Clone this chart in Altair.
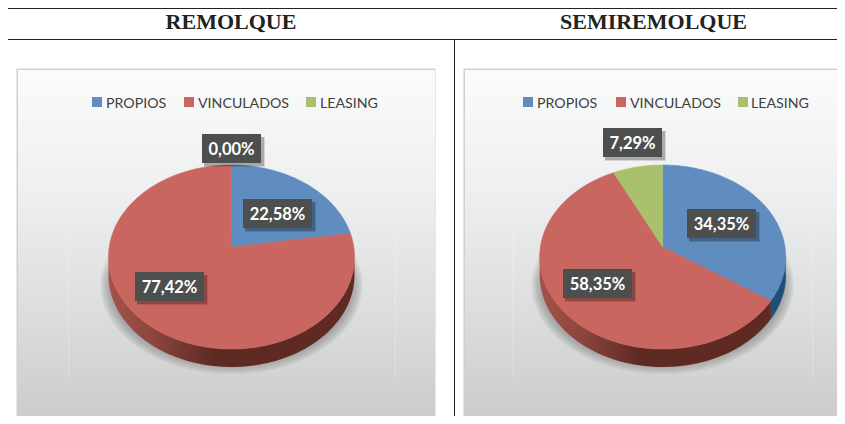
import math
import altair as alt
import pandas as pd

# ---- chart values ----
PANEL_TITLES = ["REMOLQUE", "SEMIREMOLQUE"]
CATEGORIES = ["PROPIOS", "VINCULADOS", "LEASING"]
REMOLQUE_SHARES = [22.58, 77.42, 0.00]
SEMIREMOLQUE_SHARES = [34.35, 58.35, 7.29]
REMOLQUE_LABELS = ["22,58%", "77,42%", "0,00%"]
SEMIREMOLQUE_LABELS = ["34,35%", "58,35%", "7,29%"]
COLORS = ["#5f8dbf", "#c96660", "#a9c06c"]
SIDE_BLUE = "#1f4e79"

# ---- layout (in page pixels, mapped through the scales below) ----
RIGHT, BOTTOM = 837, 416
xs = alt.Scale(domain=[8, RIGHT], range=[0, RIGHT - 8], nice=False, zero=False)
ys = alt.Scale(domain=[8, BOTTOM], range=[0, BOTTOM - 8], nice=False, zero=False)
X = lambda f="x": alt.X(f"{f}:Q", scale=xs, axis=None)
Y = lambda f="y": alt.Y(f"{f}:Q", scale=ys, axis=None)


def grad(stops, horizontal=False):
    return alt.LinearGradient(
        gradient="linear",
        stops=[alt.GradientStop(color=c, offset=o) for o, c in stops],
        x1=0, y1=0, x2=1 if horizontal else 0, y2=0 if horizontal else 1,
    )


def polygon(points, fill, opacity=1.0, stroke=None):
    df = pd.DataFrame(points, columns=["x", "y"])
    df["i"] = range(len(df))
    kw = {"stroke": stroke, "strokeWidth": 0.6} if stroke else {"strokeWidth": 0, "strokeOpacity": 0}
    return alt.Chart(df).mark_line(fill=fill, opacity=opacity, interpolate="linear", clip=True, **kw).encode(
        x=X(), y=Y(), order=alt.Order("i:Q")
    )


def rect(x, x2, y, y2, color, opacity=1.0):
    df = pd.DataFrame([{"x": x, "x2": min(x2, RIGHT), "y": y, "y2": min(y2, BOTTOM)}])
    return alt.Chart(df).mark_rect(color=color, opacity=opacity).encode(
        x=X(), x2=alt.X2("x2:Q"), y=Y(), y2=alt.Y2("y2:Q")
    )


def text(x, y, s, **kw):
    df = pd.DataFrame([{"x": x, "y": y, "s": s}])
    return alt.Chart(df).mark_text(**kw).encode(x=X(), y=Y(), text="s:N")


def rule(x, x2, y, y2):
    df = pd.DataFrame([{"x": x, "x2": x2, "y": y, "y2": y2}])
    return alt.Chart(df).mark_rule(color="#222222", strokeWidth=1).encode(
        x=X(), x2=alt.X2("x2:Q"), y=Y(), y2=alt.Y2("y2:Q")
    )


def ell(cx, cy, rx, ry, a0, a1, dy=0.0):
    n = max(2, int(abs(a1 - a0) / 1.5))
    out = []
    for k in range(n + 1):
        t = math.radians(a0 + (a1 - a0) * k / n)
        out.append((cx + rx * math.sin(t), cy - ry * math.cos(t) + dy))
    return out


def rim_angle(theta, rx, ry, lift):
    """Ellipse angle hit by the slice edge of angle theta, drawn from an apex `lift` px above the ellipse centre."""
    t = math.radians(theta)
    dx, dy = rx * math.sin(t), -ry * math.cos(t)
    a = (dx / rx) ** 2 + (dy / ry) ** 2
    b = 2 * (-lift) * dy / ry ** 2
    c = (lift / ry) ** 2 - 1
    s = (-b + math.sqrt(b * b - 4 * a * c)) / (2 * a)
    px, py = s * dx, -lift + s * dy
    ang = math.degrees(math.atan2(px / rx, -py / ry))
    return ang if ang >= -1e-6 or theta < 1e-6 else ang + 360


def panel(frame, inner, cx, shares, labels, boxes, legend_sq, legend_tx):
    cy, apex_y, rx, ry, depth = 257, 247, 123, 92, 18
    lift = cy - apex_y
    L = []
    # background
    L.append(rect(frame[0] - 0.5, frame[1] + 0.5, 68.5, 421, "#cfd0d0"))
    L.append(rect(frame[0] + 1, frame[1], 70, 420,
                  grad([(0, "#fbfbfc"), (0.35, "#eeeff0"), (0.7, "#dcdddd"), (1, "#cccccc")])))
    # faint plot area outline
    for xx in inner:
        df = pd.DataFrame([{"x": xx, "y": 162, "y2": 377}])
        L.append(alt.Chart(df).mark_rule(color="#ffffff", opacity=0.25).encode(
            x=X(), y=Y(), y2=alt.Y2("y2:Q")))
    # soft shadow
    for d in range(0, 12, 2):
        L.append(polygon(ell(cx, 285, 131 - d, 89 - d, 0, 360),
                         grad([(0, "rgba(110,110,110,0)"), (0.2, "rgba(110,110,110,0)"),
                               (0.45, "rgba(110,110,110,1)"), (1, "rgba(110,110,110,1)")]),
                         opacity=0.12))
    # side wall, front half only
    acc = 0.0
    side_start = 90.0
    blue_end = rim_angle(shares[0] * 3.6, rx, ry, lift)
    if blue_end > 90:
        a = ell(cx, cy, rx, ry, 90, blue_end)
        b = ell(cx, cy, rx, ry, blue_end, 90, dy=depth)
        L.append(polygon(a + b, SIDE_BLUE, stroke=SIDE_BLUE))
        side_start = blue_end
    a = ell(cx, cy, rx, ry, side_start, 270)
    b = ell(cx, cy, rx, ry, 270, side_start, dy=depth)
    L.append(polygon(a + b, grad([(0, "#a65249"), (0.2, "#88443b"), (0.42, "#602a24"), (1, "#602a24")],
                                 horizontal=True)))
    # top surface
    for share, col in zip(shares, COLORS):
        if share <= 0:
            continue
        a0 = rim_angle(acc * 3.6, rx, ry, lift)
        a1 = rim_angle(min((acc + share) * 3.6, 360), rx, ry, lift)
        if a1 <= a0:
            a1 += 360
        acc += share
        pts = [(cx, apex_y)] + ell(cx, cy, rx, ry, a0, a1) + [(cx, apex_y)]
        L.append(polygon(pts, col, stroke=col))
    # legend
    for sq, tx, name, col in zip(legend_sq, legend_tx, CATEGORIES, COLORS):
        L.append(rect(sq, sq + 10, 97, 107, col))
        L.append(text(tx, 104, name, align="left", baseline="middle", font="Lato",
                      fontSize=14.2, color="#404040"))
    # data labels
    for (x0, y0), lab in zip(boxes, labels):
        w = 59 if len(lab) == 5 else 69
        L.append(rect(x0 + 2, x0 + w + 4, y0 + 3, y0 + 33, "#000000", 0.12))
        L.append(rect(x0 + 2, x0 + w + 3, y0 + 3, y0 + 32, "#000000", 0.2))
        L.append(rect(x0, x0 + w, y0, y0 + 29, "#4d4f4f"))
        L.append(text(x0 + w / 2, y0 + 15.5, lab, align="center", baseline="middle", font="Lato",
                      fontWeight="bold", fontSize=16.5, color="#ffffff"))
    return L


layers = []
layers += panel((17, 435), (69, 395), 231.5, REMOLQUE_SHARES, REMOLQUE_LABELS,
                [(243, 199), (135, 272), (202, 134)],
                (92, 184, 306), (106, 198, 320))
layers += panel((464, 845), (513, 813), 662.7, SEMIREMOLQUE_SHARES, SEMIREMOLQUE_LABELS,
                [(687, 209), (563, 269), (603, 128)],
                (523, 616, 738), (537, 630, 751))

# header table
layers.append(rule(8, RIGHT, 8.5, 8.5))
layers.append(rule(8, RIGHT, 39.5, 39.5))
layers.append(rule(454.5, 454.5, 39.5, BOTTOM))
for cx_, title in zip((231, 653.5), PANEL_TITLES):
    layers.append(text(cx_, 29, title, align="center", baseline="alphabetic",
                       font="Liberation Serif", fontWeight="bold", fontSize=22, color="#222222"))

chart = alt.layer(*layers).properties(
    width=RIGHT - 8, height=BOTTOM - 8, padding=0, autosize=alt.AutoSizeParams(type="none"),
    background="white",
).configure_view(stroke=None)

chart.save("out.html", embed_options={"renderer": "svg", "actions": False})
